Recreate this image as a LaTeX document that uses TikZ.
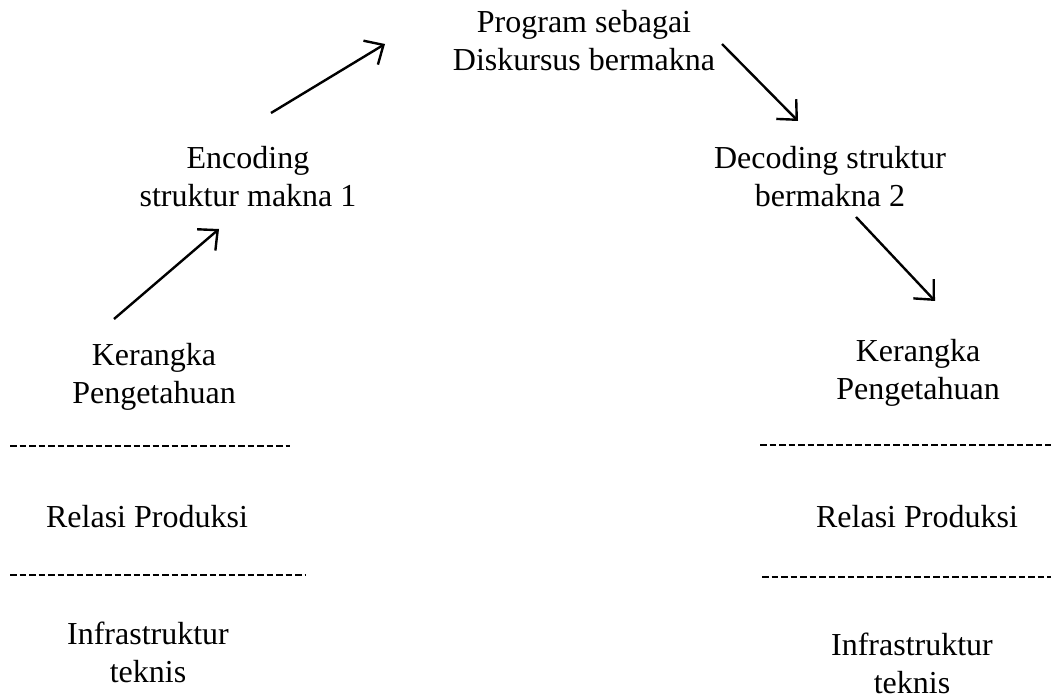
\documentclass[tikz,border=0pt]{standalone}
\usepackage{fontspec}
\setmainfont{Liberation Serif}
\usetikzlibrary{arrows.meta}

\begin{document}
\begin{tikzpicture}[x=1pt,y=-1pt,
		txt/.style={align=center,inner sep=0pt,font=\fontsize{32}{38}\selectfont},
		arr/.style={line width=2.4pt,-{Straight Barb[length=15pt,width=28pt,line width=2.4pt]}},
		garis/.style={line width=1.8pt,dash pattern=on 6.5pt off 3pt}]
			\useasboundingbox (0,0) rectangle (1051,700);
			\node[txt] (prog) at (584,41) {Program sebagai\\Diskursus bermakna};
			\node[txt] (enc) at (248,177) {Encoding\\struktur makna 1};
			\node[txt] (dec) at (830,177) {Decoding struktur\\bermakna 2};
			\node[txt] (kerL) at (154,377) {Kerangka\\Pengetahuan};
			\node[txt] (relL) at (147,517) {Relasi Produksi};
			\node[txt] (infL) at (148,652) {Infrastruktur\\teknis};
			\node[txt] (kerR) at (918,373) {Kerangka\\Pengetahuan};
			\node[txt] (relR) at (917,517) {Relasi Produksi};
			\node[txt] (infR) at (912,663) {Infrastruktur\\teknis};
			\coordinate (a1) at (114,319);
			\coordinate (b1) at (219,229);
			\coordinate (a2) at (271,113);
			\coordinate (b2) at (385,44);
			\coordinate (a3) at (722,44);
			\coordinate (b3) at (798,121);
			\coordinate (a4) at (856,217);
			\coordinate (b4) at (935,301);
			\draw[arr] (a1)--(b1);
			\draw[arr] (a2)--(b2);
			\draw[arr] (a3)--(b3);
			\draw[arr] (a4)--(b4);
			\coordinate (g1) at (10,446);
			\coordinate (h1) at (290,446);
			\coordinate (g2) at (10,575);
			\coordinate (h2) at (305,575);
			\coordinate (g3) at (760,445);
			\coordinate (h3) at (1051,445);
			\coordinate (g4) at (762,577);
			\coordinate (h4) at (1051,577);
			\draw[garis] (g1)--(h1);
			\draw[garis] (g2)--(h2);
			\draw[garis] (g3)--(h3);
			\draw[garis] (g4)--(h4);
		\end{tikzpicture}
\end{document}
